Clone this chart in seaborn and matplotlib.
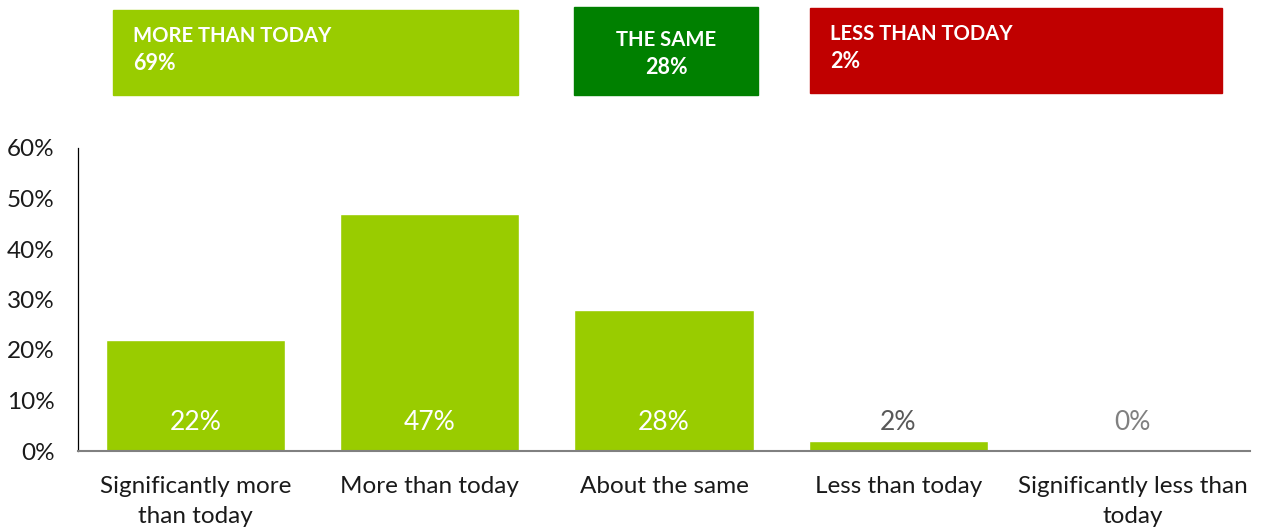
import matplotlib
matplotlib.use("Agg")
import matplotlib.pyplot as plt
from matplotlib.patches import Rectangle
import seaborn as sns
import pandas as pd

categories = ["Significantly more\nthan today", "More than today", "About the same",
              "Less than today", "Significantly less than\ntoday"]
values = [22, 47, 28, 2, 0]
label_colors = ["white", "white", "white", "#595959", "#808080"]
y_ticks = [0, 10, 20, 30, 40, 50, 60]

summary_titles = ["MORE THAN TODAY", "THE SAME", "LESS THAN TODAY"]
summary_values = [69, 28, 2]
summary_colors = ["#99CC00", "#008000", "#C00000"]

sns.set_theme(style="white")
plt.rcParams["font.family"] = ["Lato", "DejaVu Sans"]

fig = plt.figure(figsize=(12.65, 5.31), dpi=100)
ax = fig.add_axes([78 / 1265, 1 - 451 / 531, (1250 - 78) / 1265, (451 - 148) / 531])

df = pd.DataFrame({"category": categories, "value": values})
sns.barplot(data=df, x="category", y="value", color="#99CC00", saturation=1,
            width=0.765, ax=ax)

ax.set_ylim(0, 60)
ax.set_xlim(-0.5, 4.5)
ax.set_yticks(y_ticks)
ax.set_yticklabels([f"{t}%" for t in y_ticks], fontsize=17.5, color="#1a1a1a")
ax.tick_params(axis="x", labelsize=17.5, colors="#1a1a1a", pad=18, length=0)
ax.tick_params(axis="y", pad=17, length=0)
for lbl in ax.get_xticklabels():
    lbl.set_linespacing(1.55)
ax.set_xlabel("")
ax.set_ylabel("")
for s in ["top", "right"]:
    ax.spines[s].set_visible(False)
ax.spines["left"].set_color("#000000")
ax.spines["left"].set_linewidth(0.9)
ax.spines["bottom"].set_color("#808080")
ax.spines["bottom"].set_linewidth(1.5)

for i, (v, c) in enumerate(zip(values, label_colors)):
    ax.text(i, 5.6, f"{v}%", ha="center", va="center", fontsize=19, color=c)

# Summary boxes above the chart (figure pixel coordinates)
boxes = [
    (113, 10, 518, 95, "left", 133, 36),
    (574, 7, 758, 95, "center", 666, 40),
    (810, 8, 1222, 93, "left", 830, 34),
]
W, H = 1265, 531
for (x0, y0, x1, y1, ha, tx, ty), title, val, col in zip(boxes, summary_titles,
                                                         summary_values, summary_colors):
    fig.patches.append(Rectangle((x0 / W, 1 - y1 / H), (x1 - x0) / W, (y1 - y0) / H,
                                 transform=fig.transFigure, color=col, zorder=0))
    fig.text(tx / W, 1 - ty / H, title, ha=ha, va="center", fontsize=14.6,
             fontweight="bold", color="white")
    fig.text(tx / W, 1 - (ty + 28) / H, f"{val}%", ha=ha, va="center", fontsize=15.5,
             fontweight="bold", color="white")

fig.savefig("out.png", dpi=100)
